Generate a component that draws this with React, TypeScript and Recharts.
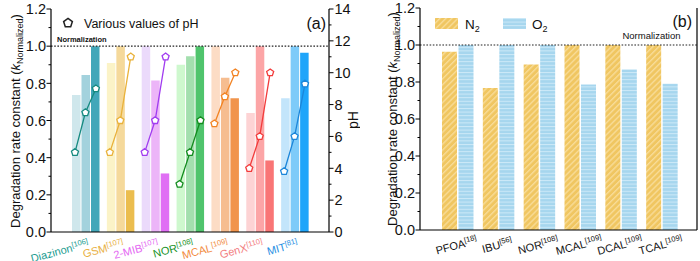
import React from "react";
import { ComposedChart, BarChart, Bar, Cell, Scatter, XAxis, YAxis, ReferenceLine } from "recharts";

// ---------- panel (a): effect of pH ----------
const compounds = ["Diazinon", "GSM", "2-MIB", "NOR", "MCAL", "GenX", "MIT"];
const compoundRefs = ["106", "107", "107", "108", "109", "110", "81"];
const kLowPh = [0.737, 0.91, 1.0, 0.9, 1.0, 0.64, 0.72];
const kMidPh = [0.845, 1.0, 0.815, 0.946, 0.83, 1.0, 1.0];
const kHighPh = [1.0, 0.225, 0.315, 1.0, 0.72, 0.385, 0.964];
const phLow = [5, 5, 5, 3, 6.8, 4, 3.8];
const phMid = [7.5, 7, 7, 5, 8.5, 6, 6];
const phHigh = [9, 11, 11, 7, 10, 10, 9.3];

// ---------- panel (b): N2 vs O2 ----------
const gasTargets = ["PFOA", "IBU", "NOR", "MCAL", "DCAL", "TCAL"];
const gasRefs = ["18", "56", "108", "109", "109", "109"];
const kN2 = [0.963, 0.768, 0.894, 1.0, 1.0, 1.0];
const kO2 = [1.0, 1.0, 1.0, 0.786, 0.867, 0.791];

const kTicks = [0, 0.1, 0.2, 0.3, 0.4, 0.5, 0.6, 0.7, 0.8, 0.9, 1.0, 1.1, 1.2];
const phTicks = [0, 1, 2, 3, 4, 5, 6, 7, 8, 9, 10, 11, 12, 13, 14];

const barLight = ["#cfe7ec", "#fbf3c7", "#ebdafb", "#cef8ce", "#fcdcc5", "#fdd3d4", "#c3e5fb"];
const barMid = ["#a3d2dd", "#f5d99b", "#ecb5f8", "#a3dfae", "#f6bd90", "#fca5a6", "#7ecbf9"];
const barDark = ["#42a7b9", "#ebbd4e", "#e06ff4", "#4fc46c", "#f1944c", "#f97575", "#1fa5fa"];
const lineColors = ["#168a80", "#e9b23b", "#a13cf0", "#138b1e", "#f28323", "#f23c3c", "#1c86d9"];
const labelColors = ["#1a9b90", "#e8b042", "#e467f2", "#15921f", "#f28c42", "#f37d7f", "#1f8fe3"];

const FONT = "'Liberation Sans', Arial, sans-serif";
const AXIS = { stroke: "#000", strokeWidth: 1.2 };

const dataA = compounds.map((name, i) => ({ name, low: kLowPh[i], mid: kMidPh[i], high: kHighPh[i] }));
const dataB = gasTargets.map((name, i) => ({ name, n2: kN2[i], o2: kO2[i] }));

// hidden numeric x axis lined up with the category bands so the pH points sit on the bars
const PLOT_W_A = 278;
const CAT_PAD_A = 17;
const bandA = (PLOT_W_A - 2 * CAT_PAD_A) / compounds.length;
const numPadA = 0.5 + CAT_PAD_A / bandA;
const PH_SPREAD = 0.3;
const phSeries = compounds.map((_, i) => [
  { x: i - PH_SPREAD, ph: phLow[i] },
  { x: i, ph: phMid[i] },
  { x: i + PH_SPREAD, ph: phHigh[i] },
]);

const pentagonPoints = (cx: number, cy: number, r: number) =>
  [0, 1, 2, 3, 4]
    .map((k) => {
      const a = ((-90 + 72 * k) * Math.PI) / 180;
      return `${cx + r * Math.cos(a)},${cy + r * Math.sin(a)}`;
    })
    .join(" ");

const Pentagon = ({ cx, cy, stroke }: any) => (
  <polygon points={pentagonPoints(cx, cy, 3.7)} fill="#fff" stroke={stroke} strokeWidth={1.3} />
);

const KTick = ({ x, y, payload }: any) => {
  const v = payload.value as number;
  const major = Math.round(v * 10) % 2 === 0;
  return (
    <g>
      <line x1={x} x2={x - (major ? 4.5 : 2.5)} y1={y} y2={y} stroke="#000" />
      {major && (
        <text x={x - 5} y={y} dy="0.36em" textAnchor="end" fontSize={14.5} fontFamily={FONT} fill="#111">
          {v.toFixed(1)}
        </text>
      )}
    </g>
  );
};

const PhTick = ({ x, y, payload }: any) => {
  const v = payload.value as number;
  const major = v % 2 === 0;
  return (
    <g>
      <line x1={x} x2={x + (major ? 4.5 : 2.5)} y1={y} y2={y} stroke="#000" />
      {major && (
        <text x={x + 5.5} y={y} dy="0.36em" textAnchor="start" fontSize={14.5} fontFamily={FONT} fill="#111">
          {v}
        </text>
      )}
    </g>
  );
};

const CompoundTick = ({ x, y, index }: any) => {
  const ax = x + 4;
  const ay = y + 15;
  return (
    <text x={ax} y={ay} transform={`rotate(-15 ${ax} ${ay})`} textAnchor="end" fontSize={11} fontFamily={FONT} fill={labelColors[index]}>
      {compounds[index]}
      <tspan dy={-4} fontSize={7.5}>[{compoundRefs[index]}]</tspan>
    </text>
  );
};

const GasTick = ({ x, y, index }: any) => {
  const ay = y + 19;
  return (
    <text x={x} y={ay} transform={`rotate(-15 ${x} ${ay})`} textAnchor="middle" fontSize={11} fontFamily={FONT} fill="#111">
      {gasTargets[index]}
      <tspan dy={-4} fontSize={7.5}>[{gasRefs[index]}]</tspan>
    </text>
  );
};

const KTitle = ({ px, py }: any) => (
  <text x={px} y={py} transform={`rotate(-90 ${px} ${py})`} textAnchor="middle" dy="0.35em" fontSize={13} fontFamily={FONT} fill="#111">
    Degradation rate constant (<tspan fontStyle="italic">k</tspan>
    <tspan dy={3} fontSize={9}>Normalized</tspan>
    <tspan dy={-3}>)</tspan>
  </text>
);

const PanelA = () => (
  <ComposedChart width={360} height={261} data={dataA} margin={{ top: 9, right: 0, bottom: 0, left: 0 }} barGap={1}>
    <XAxis
      xAxisId="cat"
      dataKey="name"
      height={29}
      padding={{ left: CAT_PAD_A, right: CAT_PAD_A }}
      interval={0}
      tickLine={false}
      tickSize={0}
      tickMargin={0}
      tick={(p: any) => <CompoundTick {...p} />}
      axisLine={AXIS}
    />
    <XAxis
      xAxisId="num"
      type="number"
      dataKey="x"
      orientation="top"
      height={0}
      domain={[-numPadA, compounds.length - 1 + numPadA]}
      tick={false}
      tickLine={false}
      axisLine={AXIS}
    />
    <YAxis
      yAxisId="k"
      width={51}
      domain={[0, 1.2]}
      ticks={kTicks}
      interval={0}
      tickLine={false}
      tickSize={0}
      tickMargin={0}
      tick={(p: any) => <KTick {...p} />}
      axisLine={AXIS}
      label={() => <KTitle px={15} py={121} />}
    />
    <YAxis
      yAxisId="ph"
      orientation="right"
      width={31}
      domain={[0, 14]}
      ticks={phTicks}
      interval={0}
      tickLine={false}
      tickSize={0}
      tickMargin={0}
      tick={(p: any) => <PhTick {...p} />}
      axisLine={AXIS}
      label={() => (
        <text x={353} y={120} transform="rotate(-90 353 120)" textAnchor="middle" dy="0.35em" fontSize={14} fontFamily={FONT} fill="#111">
          pH
        </text>
      )}
    />
    <Bar xAxisId="cat" yAxisId="k" dataKey="low" barSize={8.5} isAnimationActive={false}>
      {dataA.map((d, i) => (
        <Cell key={d.name} fill={barLight[i]} />
      ))}
    </Bar>
    <Bar xAxisId="cat" yAxisId="k" dataKey="mid" barSize={8.5} isAnimationActive={false}>
      {dataA.map((d, i) => (
        <Cell key={d.name} fill={barMid[i]} />
      ))}
    </Bar>
    <Bar xAxisId="cat" yAxisId="k" dataKey="high" barSize={8.5} isAnimationActive={false}>
      {dataA.map((d, i) => (
        <Cell key={d.name} fill={barDark[i]} />
      ))}
    </Bar>
    <ReferenceLine
      xAxisId="num"
      yAxisId="k"
      y={1}
      stroke="#222"
      strokeWidth={1.2}
      strokeDasharray="1.6 1.6"
      label={() => (
        <text x={57} y={41.5} fontSize={7.5} fontWeight="bold" fontFamily={FONT} fill="#111">
          Normalization
        </text>
      )}
    />
    {phSeries.map((pts, i) => (
      <Scatter
        key={compounds[i]}
        data={pts}
        xAxisId="num"
        yAxisId="ph"
        dataKey="ph"
        line={{ stroke: lineColors[i], strokeWidth: 1.3 }}
        lineType="joint"
        shape={(p: any) => <Pentagon cx={p.cx} cy={p.cy} stroke={lineColors[i]} />}
        isAnimationActive={false}
      />
    ))}
  </ComposedChart>
);

const PanelB = () => (
  <BarChart width={340} height={261} data={dataB} margin={{ top: 8, right: 0, bottom: 0, left: 0 }} barGap={1.5}>
    <defs>
      <pattern id="n2Hatch" patternUnits="userSpaceOnUse" width={4.2} height={4.2} patternTransform="rotate(45)">
        <rect width={4.2} height={4.2} fill="#f0c661" />
        <rect width={1.4} height={4.2} fill="#f8dc97" />
      </pattern>
      <pattern id="o2Stripe" patternUnits="userSpaceOnUse" width={6} height={3.6}>
        <rect width={6} height={3.6} fill="#a6d6ee" />
        <rect width={6} height={1} fill="#cde9f7" />
      </pattern>
    </defs>
    <XAxis
      dataKey="name"
      height={31}
      padding={{ left: 17, right: 15 }}
      interval={0}
      tickLine={false}
      tickSize={0}
      tickMargin={0}
      tick={(p: any) => <GasTick {...p} />}
      axisLine={AXIS}
    />
    <XAxis xAxisId="frame" type="number" domain={[0, 1]} orientation="top" height={0} tick={false} tickLine={false} axisLine={AXIS} />
    <YAxis
      width={60}
      domain={[0, 1.2]}
      ticks={kTicks}
      interval={0}
      tickLine={false}
      tickSize={0}
      tickMargin={0}
      tick={(p: any) => <KTick {...p} />}
      axisLine={AXIS}
      label={() => <KTitle px={32} py={119} />}
    />
    <YAxis yAxisId="frame" orientation="right" width={3} domain={[0, 1]} tick={false} tickLine={false} axisLine={AXIS} />
    <Bar dataKey="n2" fill="url(#n2Hatch)" barSize={15} isAnimationActive={false} />
    <Bar dataKey="o2" fill="url(#o2Stripe)" barSize={15} isAnimationActive={false} />
    <ReferenceLine
      y={1}
      stroke="#222"
      strokeWidth={1.2}
      strokeDasharray="1.6 1.6"
      label={() => (
        <text x={320.5} y={38.5} textAnchor="end" fontSize={9.5} fontFamily={FONT} fill="#111">
          Normalization
        </text>
      )}
    />
  </BarChart>
);

export default function App() {
  return (
    <div style={{ position: "absolute", left: 0, top: 0, width: 700, height: 261, background: "#fff", fontFamily: FONT }}>
      <div style={{ position: "absolute", left: 0, top: 0 }}>
        <PanelA />
      </div>
      <div style={{ position: "absolute", left: 360, top: 0 }}>
        <PanelB />
      </div>
      <svg width={700} height={261} style={{ position: "absolute", left: 0, top: 0, pointerEvents: "none" }}>
        <polygon points={pentagonPoints(68, 23, 4.6)} fill="#fff" stroke="#222" strokeWidth={1.5} />
        <text x={84} y={27.5} fontSize={12.5} fontFamily={FONT} fill="#111">
          Various values of pH
        </text>
        <text x={326} y={29} textAnchor="end" fontSize={16} fontFamily={FONT} fill="#111">
          (a)
        </text>
        <rect x={435} y={18} width={23} height={11} fill="url(#n2Hatch)" />
        <text x={465} y={28.5} fontSize={13.5} fontFamily={FONT} fill="#111">
          N<tspan dy={3} fontSize={9}>2</tspan>
        </text>
        <rect x={503} y={18} width={23} height={11} fill="url(#o2Stripe)" />
        <text x={532} y={28.5} fontSize={13.5} fontFamily={FONT} fill="#111">
          O<tspan dy={3} fontSize={9}>2</tspan>
        </text>
        <text x={692} y={27} textAnchor="end" fontSize={16} fontFamily={FONT} fill="#111">
          (b)
        </text>
      </svg>
    </div>
  );
}
